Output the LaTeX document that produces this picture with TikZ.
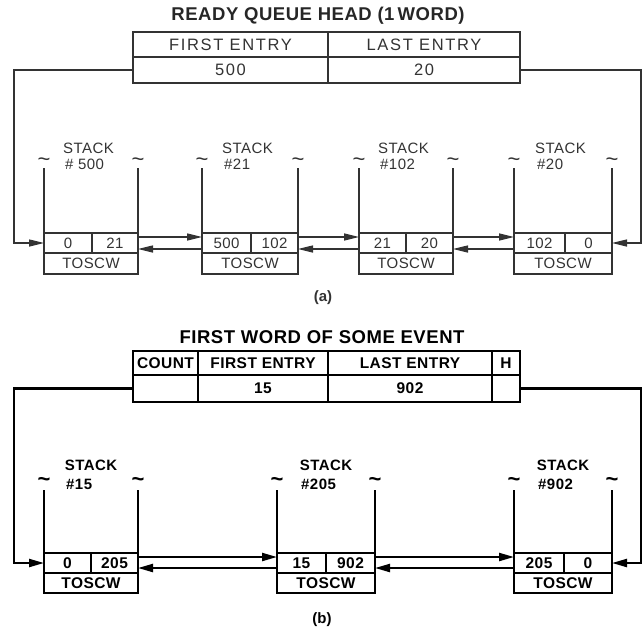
\documentclass[tikz,border=0pt]{standalone}
\usepackage{fontspec}
\setmainfont{Liberation Sans}
\newfontfamily\lightfont[LetterSpace=3]{Liberation Sans}
\newfontfamily\headfont[LetterSpace=10]{Liberation Sans}
\newfontfamily\bfont[LetterSpace=3]{Liberation Sans}
\usetikzlibrary{arrows.meta}
\definecolor{inka}{HTML}{333333}
\tikzset{
  pa/.style={line width=1.3pt, draw=inka},
  pb/.style={line width=2.2pt, draw=black},
  cella/.style={draw=inka, line width=1.3pt, inner sep=0pt, outer sep=0pt, text=inka,
    font=\lightfont\fontsize{15}{15}\selectfont},
  heada/.style={cella, font=\headfont\fontsize{16.5}{16.5}\selectfont},
  cellb/.style={draw=black, line width=2.2pt, inner sep=0pt, outer sep=0pt,
    font=\bfont\bfseries\fontsize{15.5}{15.5}\selectfont},
  lbla/.style={inner sep=0pt, text=inka, font=\lightfont\fontsize{15}{15}\selectfont},
  lblb/.style={inner sep=0pt, font=\bfont\bfseries\fontsize{15}{15}\selectfont},
  tilda/.style={inner sep=0pt, text=inka, font=\fontsize{22}{22}\selectfont},
  tildb/.style={inner sep=0pt, font=\bfseries\fontsize{22}{22}\selectfont},
  titl/.style={inner sep=0pt, font=\bfont\bfseries\fontsize{18.5}{18.5}\selectfont},
  capt/.style={inner sep=0pt, font=\bfseries\fontsize{15}{15}\selectfont},
  arra/.style={pa, -{Triangle[length=15pt,width=7pt]}},
  arrb/.style={pb, -{Triangle[length=15pt,width=8pt]}},
}
% stack of part (a): name, left, divider, right, left value, right value, number
\newcommand\stka[7]{%
  \node[cella, minimum width={#3-#2}, minimum height=20] (#1l) at ({(#2+#3)/2},243) {#5};
  \node[cella, minimum width={#4-#3}, minimum height=20] (#1r) at ({(#3+#4)/2},243) {#6};
  \node[cella, minimum width={#4-#2}, minimum height=21] (#1w) at ({(#2+#4)/2},263.5) {TOSCW};
  \draw[pa] (#1l.north west) -- ++(0,-65);
  \draw[pa] (#1r.north east) -- ++(0,-65);
  \node[tilda] (#1ta) at (#2,162) {\textasciitilde};
  \node[tilda] (#1tb) at (#4,162) {\textasciitilde};
  \node[lbla, anchor=west] (#1s) at ({(#2+#4)/2-28},148) {STACK};
  \node[lbla, anchor=west] (#1n) at ({(#2+#4)/2-26},164) {#7};
}
% stack of part (b)
\newcommand\stkb[7]{%
  \node[cellb, minimum width={#3-#2}, minimum height=20] (#1l) at ({(#2+#3)/2},563) {#5};
  \node[cellb, minimum width={#4-#3}, minimum height=20] (#1r) at ({(#3+#4)/2},563) {#6};
  \node[cellb, minimum width={#4-#2}, minimum height=20] (#1w) at ({(#2+#4)/2},583) {TOSCW};
  \draw[pb] (#1l.north west) -- ++(0,-63);
  \draw[pb] (#1r.north east) -- ++(0,-63);
  \node[tildb] (#1ta) at (#2,482) {\textasciitilde};
  \node[tildb] (#1tb) at (#4,482) {\textasciitilde};
  \node[lblb] (#1s) at ({(#2+#4)/2},465) {STACK};
  \node[lblb, anchor=west] (#1n) at ({(#2+#4)/2-25},484) {#7};
}
\begin{document}
\begin{tikzpicture}[x=1pt,y=-1pt]
\useasboundingbox (0,0) rectangle (642,632);
% ---------- part (a)
\node[titl, text=black!85] (ta) at (318,16) {READY QUEUE HEAD (1\,WORD)};
\node[heada, minimum width=195, minimum height=25] (h1) at (230.5,44.5) {FIRST ENTRY};
\node[heada, minimum width=192, minimum height=25] (h2) at (424,44.5) {LAST ENTRY};
\node[heada, minimum width=195, minimum height=26] (h3) at (230.5,70) {500};
\node[heada, minimum width=192, minimum height=26] (h4) at (424,70) {20};
\stka{a1}{44}{92}{138}{0}{21}{\# 500}
\stka{a2}{202}{251}{298}{500}{102}{\#21}
\stka{a3}{359}{406}{453}{21}{20}{\#102}
\stka{a4}{514}{565}{612}{102}{0}{\#20}
\draw[arra] (h3.west) -- ++(-119,0) |- (a1l.west);
\draw[arra] (h4.east) -- ++(121,0) |- (a4r.east);
\foreach \p/\q in {a1/a2, a2/a3, a3/a4}{
  \draw[arra] ([yshift=6pt]\p r.east) -- ([yshift=6pt]\q l.west);
  \draw[arra] ([yshift=-6pt]\q l.west) -- ([yshift=-6pt]\p r.east);
}
\node[capt, text=inka] (capa) at (323,298) {(a)};
% ---------- part (b)
\node[titl] (tb) at (322,337) {FIRST WORD OF SOME EVENT};
\node[cellb, minimum width=65, minimum height=24] (c1) at (165.5,363) {COUNT};
\node[cellb, minimum width=130, minimum height=24] (c2) at (263,363) {FIRST ENTRY};
\node[cellb, minimum width=164, minimum height=24] (c3) at (410,363) {LAST ENTRY};
\node[cellb, minimum width=28, minimum height=24] (c4) at (506,363) {H};
\node[cellb, minimum width=65, minimum height=27] (d1) at (165.5,388.5) {};
\node[cellb, minimum width=130, minimum height=27] (d2) at (263,388.5) {15};
\node[cellb, minimum width=164, minimum height=27] (d3) at (410,388.5) {902};
\node[cellb, minimum width=28, minimum height=27] (d4) at (506,388.5) {};
\stkb{b1}{44}{91}{138}{0}{205}{\#15}
\stkb{b2}{277}{326}{375}{15}{902}{\#205}
\stkb{b3}{514}{564}{612}{205}{0}{\#902}
\draw[arrb] (d1.west) -- ++(-119,0) |- (b1l.west);
\draw[arrb] (d4.east) -- ++(121,0) |- (b3r.east);
\foreach \p/\q in {b1/b2, b2/b3}{
  \draw[arrb] ([yshift=6pt]\p r.east) -- ([yshift=6pt]\q l.west);
  \draw[arrb] ([yshift=-5pt]\q l.west) -- ([yshift=-5pt]\p r.east);
}
\node[capt] (capb) at (322,620) {(b)};
\end{tikzpicture}
\end{document}
